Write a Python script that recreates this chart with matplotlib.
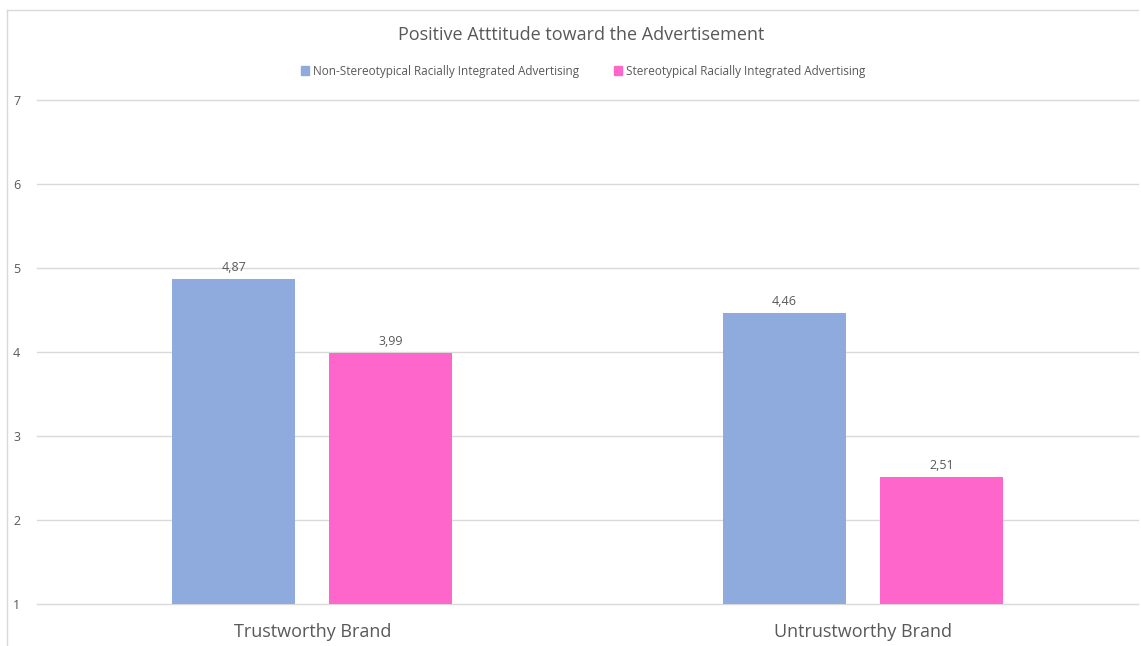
import matplotlib.pyplot as plt
from matplotlib.lines import Line2D
from matplotlib.patches import Patch
import numpy as np

categories = ['Trustworthy Brand', 'Untrustworthy Brand']
series_names = ['Non-Stereotypical Racially Integrated Advertising',
                'Stereotypical Racially Integrated Advertising']
non_stereo = [4.87, 4.46]
stereo = [3.99, 2.51]
y_ticks = [1, 2, 3, 4, 5, 6, 7]

blue = '#8FAADC'
pink = '#FF66CC'
gray_text = '#595959'

plt.rcParams['font.family'] = ['Open Sans', 'DejaVu Sans']

fig = plt.figure(figsize=(11.41, 6.46), dpi=100)
ax = fig.add_axes([37 / 1141, 1 - 604 / 646, 1101 / 1141, 504 / 646])

x = np.arange(len(categories))
w = 0.2234
off = 0.1426
ax.bar(x - off, [v - 1 for v in non_stereo], w, bottom=1, color=blue, zorder=3)
ax.bar(x + off, [v - 1 for v in stereo], w, bottom=1, color=pink, zorder=3)

for xs, vals in [(x - off, non_stereo), (x + off, stereo)]:
    for xi, v in zip(xs, vals):
        ax.text(xi, v + 0.06, f"{v:.2f}".replace('.', ','), ha='center', va='bottom',
                fontsize=9, color=gray_text)

ax.set_xlim(-0.5, 1.5)
ax.set_ylim(1, 7)
ax.set_yticks(y_ticks)
ax.set_yticklabels([str(t) for t in y_ticks], fontsize=9, color=gray_text)
ax.set_xticks(x)
ax.set_xticklabels(categories, fontsize=13, color=gray_text)
ax.tick_params(axis='both', length=0)
ax.tick_params(axis='y', pad=12)
ax.tick_params(axis='x', pad=14)
ax.grid(axis='y', color='#D9D9D9', linewidth=1, zorder=0)
for gl in ax.get_ygridlines():
    gl.set_clip_on(False)
for s in ax.spines.values():
    s.set_visible(False)

fig.text(581 / 1141, 1 - 35 / 646, 'Positive Atttitude toward the Advertisement',
         ha='center', va='center', fontsize=13, color=gray_text)

handles = [Patch(color=blue), Patch(color=pink)]
fig.legend(handles, series_names, loc='center', bbox_to_anchor=(583 / 1141, 1 - 71 / 646),
           ncol=2, frameon=False, fontsize=8.5, labelcolor=gray_text,
           handlelength=0.7, handleheight=0.7, handletextpad=0.3, columnspacing=3)

# chart frame (top and left edges visible)
fig.add_artist(Line2D([7 / 1141, 1138 / 1141], [1 - 10 / 646] * 2, color='#D9D9D9', lw=1))
fig.add_artist(Line2D([7 / 1141] * 2, [1 - 10 / 646, 0], color='#D9D9D9', lw=1))

fig.savefig('out.png', dpi=100)
